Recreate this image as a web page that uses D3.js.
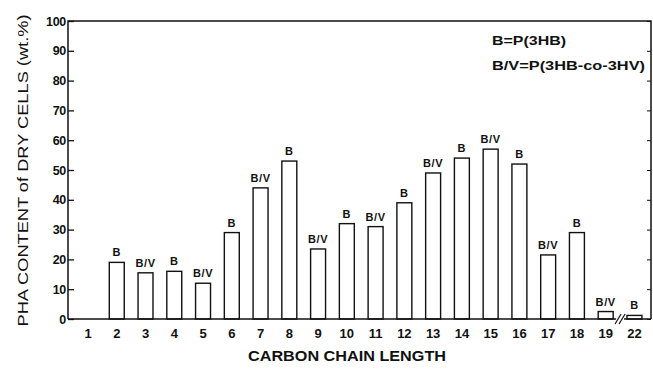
<!DOCTYPE html>
<html><head><meta charset="utf-8">
<script src="https://cdn.jsdelivr.net/npm/d3@7"></script>
<style>body{margin:0;background:#fff}svg{display:block}text{font-family:"Liberation Sans",Arial,sans-serif;fill:#111}</style>
</head><body>
<script>
const categories = ["1","2","3","4","5","6","7","8","9","10","11","12","13","14","15","16","17","18","19","22"];
const values = [0,19,15.5,16,12,29,44,53,23.5,32,31,39,49,54,57,52,21.5,29,2.5,1.2];
const barLabels = ["","B","B/V","B","B/V","B","B/V","B","B/V","B","B/V","B","B/V","B","B/V","B","B/V","B","B/V","B"];
const yTicks = [0,10,20,30,40,50,60,70,80,90,100];
const legendLines = ["B=P(3HB)","B/V=P(3HB-co-3HV)"];

(function(){
const W=653,H=370;
const svg=d3.select("body").append("svg").attr("width",W).attr("height",H);
const mL=68,mR=651,mT=21,mB=319;
const step=28.76;
const x=d3.scaleBand().domain(categories).range([88-step/2, 88-step/2+step*categories.length]).paddingInner(0.48).paddingOuter(0.24);
const y=d3.scaleLinear().domain([0,100]).range([mB,mT]);

const ya=svg.append("g").attr("transform",`translate(${mL},0)`)
  .call(d3.axisLeft(y).tickValues(yTicks).tickSize(-6).tickPadding(4));
ya.select(".domain").remove();
ya.selectAll(".tick line").attr("stroke","#111").attr("stroke-width",1.3);
ya.selectAll(".tick text").attr("font-size",12.5).attr("font-weight","bold").attr("fill","#111").attr("x",-2).attr("letter-spacing",-0.3);
const yr=svg.append("g").attr("transform",`translate(${mR},0)`)
  .call(d3.axisRight(y).tickValues(yTicks).tickSize(-4).tickFormat(""));
yr.select(".domain").remove();
yr.selectAll(".tick line").attr("stroke","#111").attr("stroke-width",1);

svg.append("path").attr("d",`M${mL},${mB}V${mT}H${mR}V${mB}`).attr("fill","none").attr("stroke","#111").attr("stroke-width",1.5);

svg.append("g").selectAll("rect").data(categories.map((c,i)=>({c,v:values[i]})).filter(d=>d.v>0)).join("rect")
  .attr("x",d=>x(d.c)).attr("width",x.bandwidth())
  .attr("y",d=>y(d.v)).attr("height",d=>y(0)-y(d.v))
  .attr("fill","#fff").attr("stroke","#111").attr("stroke-width",1.4);

svg.append("g").selectAll("text").data(categories.map((c,i)=>({c,v:values[i],l:barLabels[i]}))).join("text")
  .attr("x",d=>x(d.c)+x.bandwidth()/2).attr("y",d=>y(d.v)-6)
  .attr("text-anchor","middle").attr("font-size",11).attr("font-weight","bold").attr("letter-spacing",0.6).text(d=>d.l);

const xa=svg.append("g").attr("transform",`translate(0,${mB})`)
  .call(d3.axisBottom(x).tickSize(0).tickPadding(10));
xa.select(".domain").remove();
xa.selectAll(".tick text").attr("font-size",13).attr("font-weight","bold").attr("fill","#111");
svg.append("line").attr("x1",mL).attr("x2",mR).attr("y1",mB).attr("y2",mB).attr("stroke","#111").attr("stroke-width",1.6);

const bx=(x("19")+x.bandwidth()+x("22"))/2;
svg.append("rect").attr("x",bx-4).attr("y",mB-3).attr("width",8).attr("height",6).attr("fill","#fff");
[-2,2].forEach(o=>svg.append("line").attr("x1",bx+o-3).attr("y1",mB+5).attr("x2",bx+o+3).attr("y2",mB-5).attr("stroke","#111").attr("stroke-width",1.2));

const legendW=[74,153];
legendLines.forEach((t,i)=>svg.append("text").attr("x",492).attr("y",45+i*25).attr("font-size",13.5).attr("font-weight","bold")
  .attr("textLength",legendW[i]).attr("lengthAdjust","spacingAndGlyphs").text(t));

svg.append("text").attr("transform",`translate(28,${(13+328)/2}) rotate(-90)`).attr("text-anchor","middle")
  .attr("font-size",15.5).attr("textLength",312).attr("lengthAdjust","spacingAndGlyphs").text("PHA CONTENT of DRY CELLS (wt.%)");
svg.append("text").attr("x",347).attr("y",361).attr("text-anchor","middle").attr("font-size",15).attr("font-weight","bold")
  .attr("textLength",198).attr("lengthAdjust","spacingAndGlyphs").text("CARBON CHAIN LENGTH");
})();
</script>
</body></html>
